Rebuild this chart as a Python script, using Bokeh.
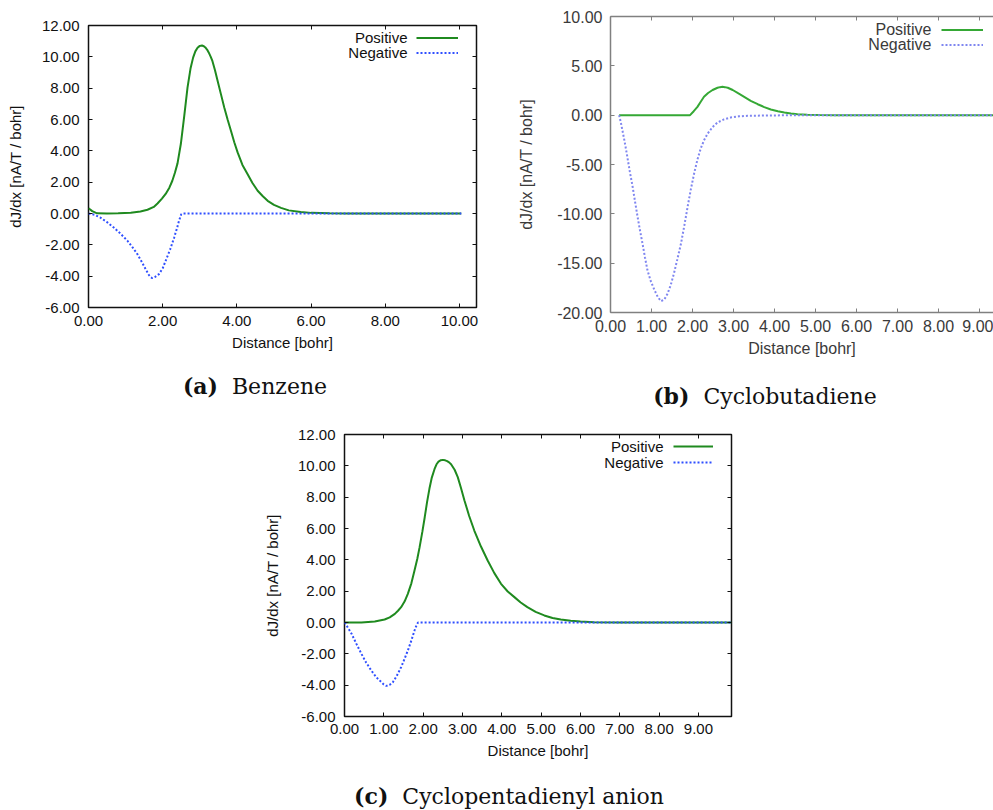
from bokeh.plotting import figure
from bokeh.models import (Range1d, FixedTicker, PrintfTickFormatter, LinearAxis, Legend,
                          LegendItem, Label, Div, Spacer, CustomJSTickFormatter)
from bokeh.layouts import row, column
from bokeh.embed import file_html
from bokeh.resources import INLINE

# ---------------- data ----------------
# (a) Benzene
benz_pos_x = [0.00, 0.10, 0.23, 0.50, 0.80, 1.14, 1.40, 1.59, 1.76, 1.86, 1.98, 2.08, 2.18, 2.26,
              2.33, 2.40, 2.49, 2.58, 2.67, 2.75, 2.82, 2.88, 2.94, 3.00, 3.06, 3.11, 3.15, 3.20,
              3.24, 3.29, 3.34, 3.41, 3.48, 3.57, 3.66, 3.75, 3.84, 3.93, 4.02, 4.15, 4.29, 4.42,
              4.56, 4.70, 4.83, 5.00, 5.19, 5.40, 5.72, 6.00, 6.50, 7.00, 10.05]
benz_pos_y = [0.34, 0.15, 0.01, 0.00, 0.01, 0.05, 0.13, 0.24, 0.42, 0.64, 0.95, 1.25, 1.65, 2.09,
              2.60, 3.20, 4.45, 6.20, 8.05, 9.25, 9.95, 10.35, 10.58, 10.70, 10.72, 10.68, 10.60,
              10.45, 10.28, 10.03, 9.74, 9.15, 8.47, 7.62, 6.77, 6.00, 5.28, 4.55, 3.90, 3.10, 2.51,
              1.95, 1.45, 1.10, 0.81, 0.55, 0.36, 0.20, 0.09, 0.04, 0.01, 0.00, 0.00]
benz_neg_x = [0.00, 0.16, 0.32, 0.50, 0.68, 0.86, 1.05, 1.20, 1.32, 1.44, 1.54, 1.63, 1.68, 1.72,
              1.76, 1.80, 1.90, 2.00, 2.08, 2.20, 2.31, 2.39, 2.44, 2.50, 2.53, 10.05]
benz_neg_y = [0.00, -0.08, -0.26, -0.55, -0.89, -1.28, -1.74, -2.20, -2.60, -3.10, -3.55, -3.93,
              -4.07, -4.12, -4.10, -4.04, -3.87, -3.50, -3.02, -2.30, -1.53, -0.90, -0.47, -0.05,
              0.00, 0.00]

# (b) Cyclobutadiene
cbd_pos_x = [0.21, 1.94, 2.03, 2.12, 2.20, 2.28, 2.38, 2.49, 2.61, 2.67, 2.73, 2.79, 2.86, 2.98,
             3.12, 3.26, 3.42, 3.59, 3.75, 3.91, 4.08, 4.24, 4.40, 4.56, 4.80, 5.10, 5.50, 9.40]
cbd_pos_y = [0.00, 0.00, 0.40, 0.84, 1.36, 1.86, 2.25, 2.55, 2.78, 2.84, 2.87, 2.84, 2.78, 2.55,
             2.20, 1.86, 1.45, 1.11, 0.82, 0.57, 0.40, 0.27, 0.17, 0.10, 0.04, 0.01, 0.00, 0.00]
cbd_neg_x = [0.21, 0.25, 0.29, 0.35, 0.41, 0.47, 0.54, 0.60, 0.66, 0.72, 0.78, 0.84, 0.90, 0.98,
             1.07, 1.15, 1.23, 1.31, 1.39, 1.47, 1.55, 1.63, 1.72, 1.80, 1.88, 1.96, 2.04, 2.12,
             2.20, 2.28, 2.37, 2.49, 2.61, 2.77, 2.93, 3.13, 3.34, 3.83, 4.40, 4.80, 9.40]
cbd_neg_y = [0.00, -0.70, -1.52, -2.80, -4.22, -5.70, -7.26, -8.80, -10.30, -11.70, -13.00, -14.40,
             -15.70, -16.80, -17.70, -18.40, -18.85, -18.70, -18.10, -17.20, -16.00, -14.60, -13.00,
             -11.20, -9.30, -7.50, -5.90, -4.50, -3.38, -2.55, -1.86, -1.20, -0.74, -0.42, -0.24,
             -0.12, -0.07, -0.03, -0.01, 0.00, 0.00]

# (c) Cyclopentadienyl anion
cpd_pos_x = [0.00, 0.43, 0.77, 1.02, 1.15, 1.28, 1.36, 1.44, 1.53, 1.61, 1.70, 1.78, 1.85, 1.91,
             1.98, 2.04, 2.10, 2.16, 2.22, 2.29, 2.34, 2.39, 2.45, 2.50, 2.56, 2.61, 2.66, 2.71,
             2.80, 2.88, 2.96, 3.05, 3.17, 3.30, 3.47, 3.64, 3.81, 3.98, 4.15, 4.32, 4.48, 4.65,
             4.86, 5.08, 5.29, 5.50, 5.75, 6.00, 6.34, 7.00, 9.84]
cpd_pos_y = [0.00, 0.00, 0.06, 0.19, 0.33, 0.55, 0.75, 0.98, 1.35, 1.83, 2.50, 3.32, 4.05, 4.81,
             5.80, 6.72, 7.70, 8.55, 9.25, 9.80, 10.10, 10.27, 10.36, 10.38, 10.35, 10.30, 10.22,
             10.10, 9.75, 9.28, 8.60, 7.79, 6.80, 5.87, 4.85, 3.96, 3.15, 2.47, 1.98, 1.62, 1.28,
             0.98, 0.68, 0.45, 0.29, 0.19, 0.11, 0.06, 0.02, 0.00, 0.00]
cpd_neg_x = [0.00, 0.08, 0.18, 0.30, 0.43, 0.55, 0.68, 0.81, 0.94, 1.00, 1.06, 1.11, 1.15, 1.23,
             1.33, 1.44, 1.53, 1.61, 1.70, 1.78, 1.84, 1.87, 9.84]
cpd_neg_y = [0.00, -0.30, -0.72, -1.35, -2.00, -2.55, -3.06, -3.50, -3.81, -3.96, -4.04, -4.03,
             -3.98, -3.81, -3.40, -2.85, -2.30, -1.79, -1.15, -0.51, -0.12, 0.00, 0.00]

# tick positions
ticks_a_x = [0, 2, 4, 6, 8, 10]
ticks_a_y = [-6, -4, -2, 0, 2, 4, 6, 8, 10, 12]
ticks_b_x = [0, 1, 2, 3, 4, 5, 6, 7, 8, 9]
ticks_b_y = [-20, -15, -10, -5, 0, 5, 10]
ticks_c_x = [0, 1, 2, 3, 4, 5, 6, 7, 8, 9]
ticks_c_y = [-6, -4, -2, 0, 2, 4, 6, 8, 10, 12]

series_names = ["Positive", "Negative"]
x_title = "Distance [bohr]"
y_title = "dJ/dx [nA/T / bohr]"

FONT = "Liberation Sans"


def make_panel(pos_x, pos_y, neg_x, neg_y, xr, yr, xt, yt, size, borders, st):
    width, height = size
    L, R, T, B = borders
    fw, fh = width - L - R, height - T - B
    p = figure(width=width, height=height, x_range=Range1d(*xr), y_range=Range1d(*yr),
               output_backend="svg", toolbar_location=None, margin=0,
               min_border_left=L, min_border_right=R, min_border_top=T, min_border_bottom=B)
    p.grid.visible = False
    p.background_fill_color = "white"
    p.border_fill_color = "white"
    if st["outline"]:
        p.outline_line_color = st["frame"]
        p.outline_line_width = 1.5
    else:
        p.outline_line_color = None

    fmt = PrintfTickFormatter(format="%.2f")
    for ax, ticks, lab in ((p.xaxis[0], xt, x_title), (p.yaxis[0], yt, y_title)):
        ax.ticker = FixedTicker(ticks=ticks)
        ax.formatter = fmt
        ax.axis_label = lab
        ax.axis_label_text_font = FONT
        ax.axis_label_text_font_style = "normal"
        ax.axis_label_text_font_size = st["fs"]
        ax.axis_label_text_color = st["text"]
        ax.major_label_text_font = FONT
        ax.major_label_text_font_size = st["tfs"]
        ax.major_label_text_color = st["text"]
        ax.major_tick_in = 4
        ax.major_tick_out = 0
        ax.major_tick_line_color = st["frame"]
        ax.minor_tick_line_color = None
        ax.axis_line_color = None if st["outline"] else st["frame"]
        ax.axis_line_width = 1.5
    p.xaxis[0].major_label_standoff = st["xs1"]
    p.xaxis[0].axis_label_standoff = st["xs2"]
    p.yaxis[0].major_label_standoff = st["ys1"]
    p.yaxis[0].axis_label_standoff = st["ys2"]

    # mirrored ticks on top / right (no labels)
    sides = ["above", "right"] if st["right_axis"] else ["above"]
    for side in sides:
        ticks = xt if side == "above" else yt
        m = LinearAxis(ticker=FixedTicker(ticks=ticks),
                       formatter=CustomJSTickFormatter(code="return ''"),
                       major_label_text_font_size="0px", major_label_standoff=0,
                       major_tick_in=4, major_tick_out=0, major_tick_line_color=st["frame"],
                       minor_tick_line_color=None,
                       axis_line_color=None if st["outline"] else st["frame"],
                       axis_line_width=1.5)
        p.add_layout(m, side)

    rp = p.line(pos_x, pos_y, line_color=st["green"], line_width=2)
    rn = p.line(neg_x, neg_y, line_color=st["blue"], line_width=2, line_dash="2 2")

    # legend: gnuplot style (text left, sample right)
    gw, off, r1, rs, gap = st["leg"]
    legend = Legend(items=[LegendItem(label="", renderers=[rp]),
                           LegendItem(label="", renderers=[rn])],
                    location=(fw - off - gw, fh - (r1 - rs / 2) - 2 * rs),
                    orientation="vertical", glyph_width=gw, glyph_height=rs,
                    label_width=0, label_height=rs, label_standoff=0, padding=0,
                    spacing=0, margin=0, border_line_color=None, background_fill_alpha=0,
                    label_text_font_size="1px")
    p.add_layout(legend)
    for i, name in enumerate(series_names):
        p.add_layout(Label(x=fw - off - gw - gap, y=fh - r1 - i * rs, x_units="screen",
                           y_units="screen", text=name, text_align="right",
                           text_baseline="middle", text_font=FONT, text_font_size=st["lfs"],
                           text_color=st["text"]))
    return p


def caption(tag, name, width, height, center, pad_top):
    html = ('<div style="position:relative; left:%dpx; width:400px; text-align:center; '
            'font-family:\'DejaVu Serif\'; font-size:22px; line-height:22px; color:#111; '
            'padding-top:%dpx; white-space:nowrap;"><b>(%s)</b>&nbsp;&nbsp;%s</div>'
            % (center - 200, pad_top, tag, name))
    return Div(text=html, width=width, height=height, margin=0)


style_ac = dict(outline=True, right_axis=True, frame="#111111", text="#111111",
                green="#1f8a1f", blue="#2f4fff", fs="15px", tfs="15px", lfs="15px",
                xs1=8, xs2=5, ys1=9, ys2=15)
style_a = dict(style_ac, leg=(42, 18, 12, 15, 9))
style_c = dict(style_ac, leg=(40, 19, 12, 16, 10), xs1=7, xs2=5, ys1=9, ys2=14)
style_b = dict(outline=False, right_axis=False, frame="#808080", text="#3a3a3a",
               green="#35a835", blue="#7f86f0", fs="16px", tfs="16px", lfs="16px",
               xs1=7, xs2=5, ys1=8, ys2=19, leg=(42, 10, 13, 15, 10))

pa = make_panel(benz_pos_x, benz_pos_y, benz_neg_x, benz_neg_y, (0, 10.46), (-6, 12),
                ticks_a_x, ticks_a_y, (500, 362), (88, 24, 25, 55), style_a)
pb = make_panel(cbd_pos_x, cbd_pos_y, cbd_neg_x, cbd_neg_y, (0, 9.34), (-20, 10),
                ticks_b_x, ticks_b_y, (493, 372), (110, 0, 16, 60), style_b)
pc = make_panel(cpd_pos_x, cpd_pos_y, cpd_neg_x, cpd_neg_y, (0, 9.84), (-6, 12),
                ticks_c_x, ticks_c_y, (480, 346), (83, 9, 14, 50), style_c)

cap_a = caption("a", "Benzene", 500, 58, 255, 13)
cap_b = caption("b", "Cyclobutadiene", 493, 48, 265, 13)
cap_c = caption("c", "Cyclopentadienyl anion", 480, 44, 249, 19)

top = row(column(pa, cap_a, spacing=0), column(pb, cap_b, spacing=0), spacing=0)
bottom = row(Spacer(width=260, height=390), column(pc, cap_c, spacing=0), spacing=0)
layout = column(top, bottom, spacing=0)

open("out.html", "w").write(file_html(layout, INLINE))
